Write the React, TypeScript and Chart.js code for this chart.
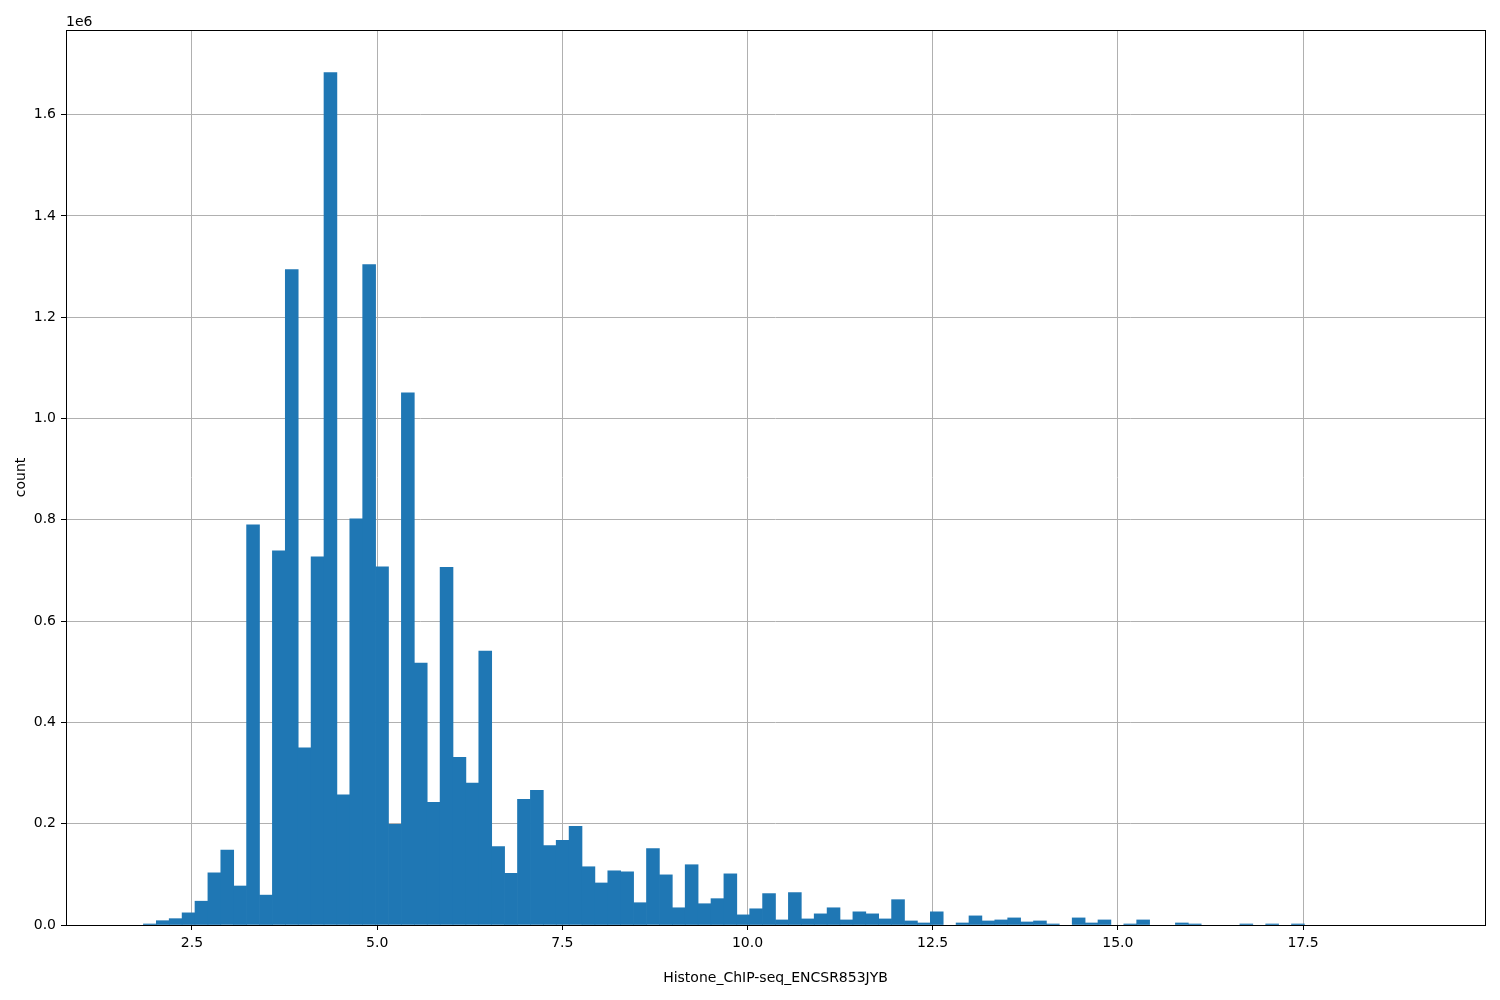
import React, { useEffect, useRef } from "react";
import { Chart, registerables } from "chart.js";

Chart.register(...registerables);

// Histogram bins: first edge and width (100 equal bins)
const binStart = 1.67;
const binWidth = 0.17416;

// Counts per bin
const counts = [
  0, 2000, 8500, 12500, 24000, 47000, 103000, 148000, 77000, 790000,
  59000, 739000, 1294000, 350000, 727000, 1683000, 257000, 802000, 1304000, 707000,
  199000, 1051000, 517000, 242000, 706000, 331000, 280000, 541000, 155000, 102000,
  248000, 266000, 157000, 167000, 195000, 115000, 83000, 107000, 105000, 44000,
  151000, 99000, 34000, 119000, 42000, 52000, 101000, 20000, 32000, 62000,
  10000, 64000, 12000, 22000, 34000, 10000, 26000, 22000, 12000, 50000,
  8000, 4000, 26000, 0, 4000, 18000, 8000, 10000, 14000, 6000,
  8000, 2000, 0, 14000, 4000, 10000, 0, 2000, 10000, 0,
  0, 4000, 2000, 0, 0, 0, 2000, 0, 2000, 0,
  2000, 0, 0, 0, 0, 0, 0, 0, 0, 0,
];

const xTickValues = [2.5, 5.0, 7.5, 10.0, 12.5, 15.0, 17.5];
const yTickValues = [0, 200000, 400000, 600000, 800000, 1000000, 1200000, 1400000, 1600000];

const xLabel = "Histone_ChIP-seq_ENCSR853JYB";
const yLabel = "count";
const offsetLabel = "1e6";

const barColor = "#1f77b4";
const gridColor = "#b0b0b0";
const fontFamily = "'DejaVu Sans', 'Liberation Sans', sans-serif";

export default function App() {
  const canvasRef = useRef<HTMLCanvasElement | null>(null);

  useEffect(() => {
    const canvas = canvasRef.current;
    if (!canvas) return;

    const points = counts
      .map((c, i) => ({ x: binStart + (i + 0.5) * binWidth, y: c }))
      .filter((p) => p.y > 0);
    const dataMax = binStart + counts.length * binWidth;
    const span = dataMax - binStart;
    const xMin = binStart - 0.05 * span;
    const xMax = dataMax + 0.05 * span;
    const yMax = Math.max(...counts) * 1.05;

    const font = { family: fontFamily, size: 14 };

    const framePlugin = {
      id: "frame",
      afterDraw(chart: any) {
        const { ctx, chartArea: a } = chart;
        ctx.save();
        ctx.strokeStyle = "#000";
        ctx.lineWidth = 1;
        ctx.strokeRect(
          Math.floor(a.left) + 0.5,
          Math.floor(a.top) + 0.5,
          Math.round(a.right - a.left),
          Math.round(a.bottom - a.top)
        );
        ctx.fillStyle = "#000";
        ctx.font = `14px ${fontFamily}`;
        ctx.textAlign = "left";
        ctx.textBaseline = "alphabetic";
        ctx.fillText(offsetLabel, a.left, a.top - 4);
        ctx.restore();
      },
    };

    const chart = new Chart(canvas, {
      type: "bar",
      data: {
        datasets: [
          {
            data: points as any,
            backgroundColor: barColor,
            borderWidth: 0,
            barPercentage: 1,
            categoryPercentage: 1,
          },
        ],
      },
      options: {
        animation: false,
        responsive: false,
        devicePixelRatio: 1,
        layout: { padding: { left: 0, top: 30, right: 15, bottom: 0 } },
        plugins: {
          legend: { display: false },
          tooltip: { enabled: false },
        },
        scales: {
          x: {
            type: "linear",
            min: xMin,
            max: xMax,
            bounds: "data",
            offset: false,
            z: 1,
            grid: {
              offset: false,
              color: gridColor,
              lineWidth: 1,
              tickColor: "#000",
              tickLength: 5,
              drawTicks: true,
            },
            border: { display: false },
            ticks: {
              color: "#000",
              font,
              padding: 5,
              autoSkip: false,
              maxRotation: 0,
              callback: (v: any) => Number(v).toFixed(1),
            },
            afterBuildTicks: (s: any) => {
              s.ticks = xTickValues.map((v) => ({ value: v }));
            },
            afterFit: (s: any) => {
              s.height = 75;
            },
            title: {
              display: true,
              text: xLabel,
              color: "#000",
              font,
              padding: { top: 0, bottom: 13 },
            },
          },
          y: {
            type: "linear",
            min: 0,
            max: yMax,
            bounds: "data",
            z: 1,
            grid: {
              color: gridColor,
              lineWidth: 1,
              tickColor: "#000",
              tickLength: 5,
            },
            border: { display: false },
            ticks: {
              color: "#000",
              font,
              padding: 5,
              autoSkip: false,
              callback: (v: any) => (Number(v) / 1e6).toFixed(1),
            },
            afterBuildTicks: (s: any) => {
              s.ticks = yTickValues.map((v) => ({ value: v }));
            },
            afterFit: (s: any) => {
              s.width = 66;
            },
            title: {
              display: true,
              text: yLabel,
              color: "#000",
              font,
              padding: { top: 13, bottom: 0 },
            },
          },
        },
      },
      plugins: [framePlugin],
    });

    return () => chart.destroy();
  }, []);

  return (
    <div style={{ position: "fixed", left: 0, top: 0, width: 1500, height: 1000, background: "#fff" }}>
      <canvas ref={canvasRef} width={1500} height={1000} style={{ width: 1500, height: 1000, display: "block" }} />
    </div>
  );
}
